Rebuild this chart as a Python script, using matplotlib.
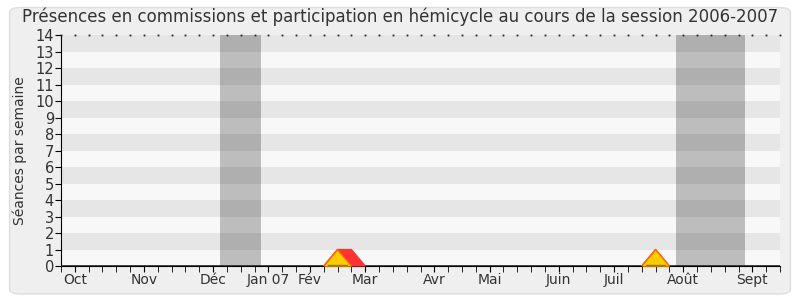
import matplotlib.pyplot as plt
import numpy as np
from matplotlib.patches import FancyBboxPatch

# semaines de la session (0 = fin septembre 2006)
weeks = np.arange(0, 53)
month_labels = ['Oct', 'Nov', 'Déc', 'Jan 07', 'Fév', 'Mar', 'Avr', 'Mai', 'Juin', 'Juil', 'Août', 'Sept']
month_weeks = [1, 6, 11, 15, 18, 22, 27, 31, 36, 40, 45, 50]

# vacances parlementaires (début, fin) en semaines
vacances = [(11.5, 14.5), (44.5, 49.5)]

# séances par semaine (deux épisodes non nuls)
commission_weeks = [[19, 20, 21, 22], [42, 43, 44]]
commission_vals = [[0, 1, 1, 0], [0, 1, 0]]
hemicycle_weeks = [[19, 20, 21], [42, 43, 44]]
hemicycle_vals = [[0, 1, 0], [0, 1, 0]]

fig = plt.figure(figsize=(8, 3), dpi=100)
fig.patch.set_facecolor('white')
bg = FancyBboxPatch((0.012, 0.02), 0.976, 0.955, boxstyle='round,pad=0,rounding_size=0.015',
                    transform=fig.transFigure, facecolor='#efefef', edgecolor='#dddddd', lw=1, zorder=-10)
fig.patches.append(bg)

ax = fig.add_axes([0.07625, 0.1133, 0.89875, 0.77])
ax.set_zorder(5)
ax.set_facecolor('#f8f8f8')
ax.set_xlim(0, 52)
ax.set_ylim(0, 14)

# bandes horizontales et vacances
for y in range(1, 14, 2):
    ax.axhspan(y, y + 1, color='#e6e6e6', lw=0, zorder=0)
for a, b in vacances:
    ax.axvspan(a, b, color='#bdbdbd', lw=0, zorder=1)
    for y in range(1, 14, 2):
        ax.fill_between([a, b], y, y + 1, color='#afafaf', lw=0, zorder=1)

# courbes
ax.axhline(0, color='#880000', lw=1.2, zorder=2)
for wk, v in zip(commission_weeks, commission_vals):
    ax.fill_between(wk, v, color='#ff3333', lw=0, zorder=3)
    ax.plot(wk, v, color='#ff3333', lw=1, zorder=3)
for wk, v in zip(hemicycle_weeks, hemicycle_vals):
    ax.fill_between(wk, v, color='#ffcc00', lw=0, zorder=4)
    ax.plot(wk, v, color='#ff6600', lw=1, zorder=4)
    ax.plot([wk[0] + 0.3, wk[-1] - 0.3], [0.05, 0.05], color='#22aa22', lw=1, zorder=5)

# ligne pointillée en haut
ax.plot(weeks, np.full(len(weeks), 14), ls='none', marker='s', ms=1.3, mew=0,
        color='#222222', clip_on=False, zorder=6)

ax.set_xticks(weeks, minor=True)
ax.set_xticks(month_weeks)
ax.set_xticklabels(month_labels, fontsize=10, color='#333333')
ax.tick_params(axis='x', which='both', length=4, direction='out', pad=1)
ax.set_yticks(range(0, 15))
ax.tick_params(axis='y', labelsize=10.5, length=4, pad=1, labelcolor='#333333')
ax.set_ylabel('Séances par semaine', fontsize=10, color='#333333', labelpad=6)

for s in ['top', 'right']:
    ax.spines[s].set_visible(False)

fig.text(0.5, 0.975, 'Présences en commissions et participation en hémicycle au cours de la session 2006-2007',
         ha='center', va='top', fontsize=12, color='#333333')

fig.savefig('out.png', dpi=100, facecolor=fig.get_facecolor())
